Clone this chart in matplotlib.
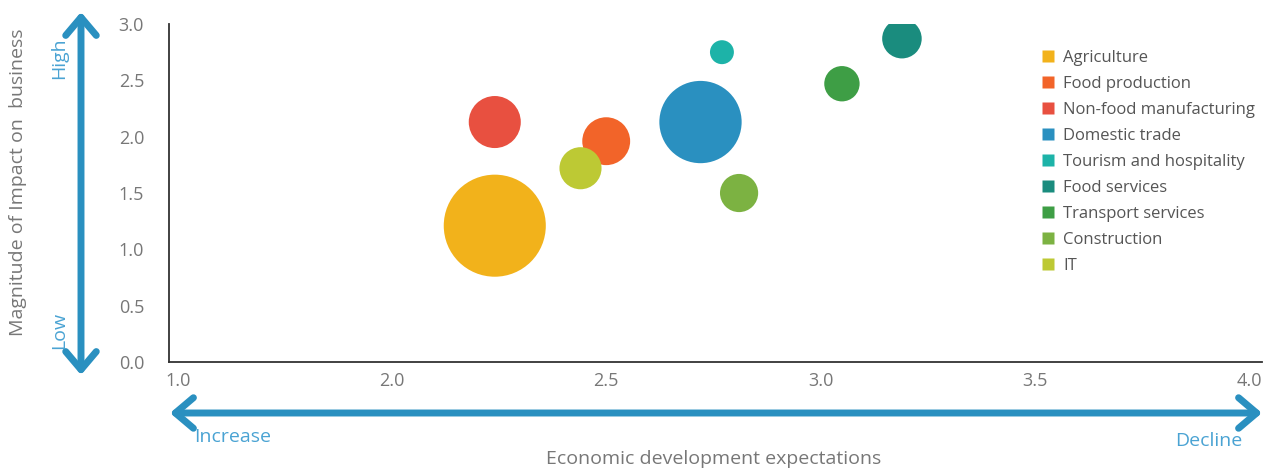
import matplotlib.pyplot as plt
from matplotlib.lines import Line2D
from matplotlib.patches import FancyArrowPatch

plt.rcParams['font.family'] = ['Open Sans', 'DejaVu Sans']

sectors = ['Agriculture', 'Food production', 'Non-food manufacturing', 'Domestic trade',
           'Tourism and hospitality', 'Food services', 'Transport services', 'Construction', 'IT']
expectations = [2.24, 2.50, 2.24, 2.72, 2.77, 3.19, 3.05, 2.81, 2.44]
impact = [1.21, 1.96, 2.13, 2.13, 2.75, 2.87, 2.47, 1.50, 1.72]
weight = [100, 22, 26, 65, 5.5, 15, 12, 14, 17]
colors = ['#F2B21B', '#F26429', '#E85040', '#2A90C0', '#1DB3A8',
          '#1A8C7E', '#3E9E45', '#7CB242', '#BDC934']

xticks = [1.5, 2.0, 2.5, 3.0, 3.5, 4.0]
xticklabels = ['1.0', '2.0', '2.5', '3.0', '3.5', '4.0']
yticks = [0.0, 0.5, 1.0, 1.5, 2.0, 2.5, 3.0]

fig = plt.figure(figsize=(12.72, 4.71), dpi=100)
ax = fig.add_axes([0.1329, 0.2314, 0.8592, 0.7176])

# draw big bubbles first so small ones stay visible
order = sorted(range(len(sectors)), key=lambda i: -weight[i])
for i in order:
    ax.scatter(expectations[i], impact[i], s=weight[i] * 54, color=colors[i],
               edgecolors='none', zorder=3)

ax.set_xlim(1.48, 4.03)
ax.set_ylim(0, 3)
ax.set_xticks(xticks)
ax.set_xticklabels(xticklabels)
ax.set_yticks(yticks)
ax.set_yticklabels([f'{v:.1f}' for v in yticks])
ax.tick_params(length=0, labelsize=13, labelcolor='#777777')
ax.tick_params(axis='y', pad=18)
ax.tick_params(axis='x', pad=7)
for s in ['top', 'right']:
    ax.spines[s].set_visible(False)
for s in ['left', 'bottom']:
    ax.spines[s].set_color('#333333')
    ax.spines[s].set_linewidth(1.3)

handles = [Line2D([], [], marker='s', linestyle='none', markersize=9,
                  markerfacecolor=c, markeredgecolor='none') for c in colors]
ax.legend(handles, sectors, loc='upper left', bbox_to_anchor=(0.783, 0.968),
          frameon=False, fontsize=12, labelspacing=0.6, handletextpad=0.4,
          handlelength=1.0, labelcolor='#555555')

blue = '#2A90C0'
W, H = 1272, 471
def px(x, y):
    return (x / W, 1 - y / H)

arr_style = '<->,head_length=1.3,head_width=1.1'
va = FancyArrowPatch(px(81, 12), px(81, 375), transform=fig.transFigure,
                     arrowstyle=arr_style, mutation_scale=10, color=blue, lw=5,
                     shrinkA=0, shrinkB=0)
ha = FancyArrowPatch(px(170, 413), px(1262, 413), transform=fig.transFigure,
                     arrowstyle=arr_style, mutation_scale=10, color=blue, lw=5,
                     shrinkA=0, shrinkB=0)
fig.add_artist(va)
fig.add_artist(ha)

light = '#4AA3D3'
fig.text(*px(59, 58), 'High', rotation=90, ha='center', va='center', fontsize=14, color=light)
fig.text(*px(59, 330), 'Low', rotation=90, ha='center', va='center', fontsize=14, color=light)
fig.text(*px(194, 437), 'Increase', ha='left', va='center', fontsize=14, color=light)
fig.text(*px(1242, 441), 'Decline', ha='right', va='center', fontsize=14, color=light)

fig.text(*px(18, 182), 'Magnitude of Impact on  business', rotation=90,
         ha='center', va='center', fontsize=14, color='#777777')
fig.text(*px(714, 459), 'Economic development expectations',
         ha='center', va='center', fontsize=14, color='#777777')

fig.savefig('out.png', dpi=100)
